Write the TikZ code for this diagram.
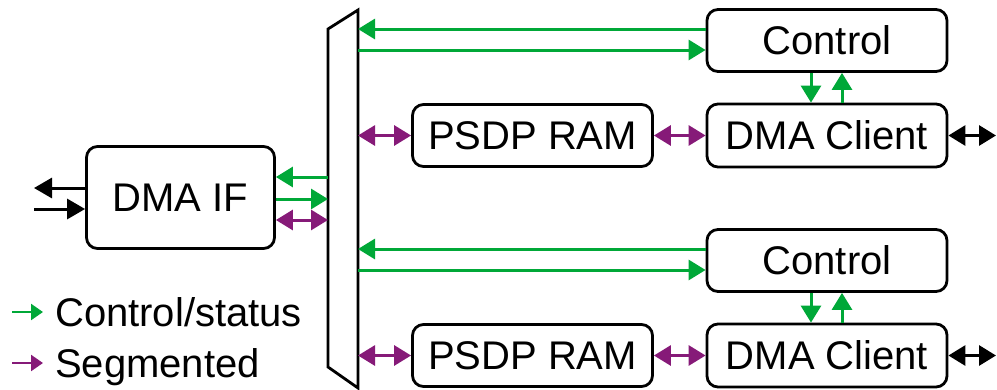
\documentclass[tikz,border=0pt]{standalone}
\usepackage{fontspec}
\setmainfont{Liberation Sans}
\usetikzlibrary{arrows.meta}
\definecolor{cgreen}{RGB}{0,168,56}
\definecolor{cpurple}{RGB}{134,26,120}
\begin{document}
\begin{tikzpicture}[x=1pt,y=-1pt,
  box/.style={draw,line width=2.8pt,rounded corners=11pt,minimum width=240pt,minimum height=62pt,inner sep=0pt,font=\fontsize{40}{46}\selectfont},
  garr/.style={draw=cgreen,line width=3pt,-{Triangle[length=17pt,width=20pt]}},
  parr/.style={draw=cpurple,line width=3pt,{Triangle[length=17pt,width=20pt]}-{Triangle[length=17pt,width=20pt]}},
  karr/.style={draw=black,line width=3pt,-{Triangle[length=18pt,width=20pt]}},
  kdarr/.style={draw=black,line width=3pt,{Triangle[length=17pt,width=20pt]}-{Triangle[length=17pt,width=20pt]}},
  legtxt/.style={anchor=base west,inner sep=0pt,font=\fontsize{40}{46}\selectfont}]
\useasboundingbox (0,0) rectangle (997,389);
% mux
\coordinate (mTL) at (328,29);
\coordinate (mTR) at (358,10);
\coordinate (mBR) at (358,388);
\coordinate (mBL) at (328,367);
\draw[line width=2.8pt,line join=miter] (mTL) -- (mTR) -- (mBR) -- (mBL) -- cycle;
% boxes
\node[box] (ctrl1) at (827,40.5) {Control};
\node[box,minimum height=63pt] (cli1) at (827,135.5) {DMA Client};
\node[box] (ram1) at (532.5,135.5) {PSDP RAM};
\node[box] (ctrl2) at (827,260.5) {Control};
\node[box,minimum height=63pt] (cli2) at (827,355.5) {DMA Client};
\node[box] (ram2) at (532.5,355.5) {PSDP RAM};
\node[box,minimum width=188pt,minimum height=102pt] (dif) at (180.5,197.5) {DMA IF};
% top group
\draw[garr] (ctrl1.west |- 0,29) -- (mTR |- 0,29);
\draw[garr] (mTR |- 0,50) -- (ctrl1.west |- 0,50);
\draw[parr] (mTR |- ram1.west) -- (ram1.west);
\draw[parr] (ram1.east) -- (cli1.west);
\draw[garr] (ctrl1.south -| 811,0) -- (cli1.north -| 811,0);
\draw[garr] (cli1.north -| 842,0) -- (ctrl1.south -| 842,0);
\coordinate (ext1) at (996,135.5);
\draw[kdarr] (cli1.east) -- (ext1);
% bottom group
\draw[garr] (ctrl2.west |- 0,249) -- (mTR |- 0,249);
\draw[garr] (mTR |- 0,270) -- (ctrl2.west |- 0,270);
\draw[parr] (mTR |- ram2.west) -- (ram2.west);
\draw[parr] (ram2.east) -- (cli2.west);
\draw[garr] (ctrl2.south -| 811,0) -- (cli2.north -| 811,0);
\draw[garr] (cli2.north -| 842,0) -- (ctrl2.south -| 842,0);
\coordinate (ext2) at (996,355.5);
\draw[kdarr] (cli2.east) -- (ext2);
% DMA IF
\draw[garr] (mTL |- 0,177) -- (dif.east |- 0,177);
\draw[garr] (dif.east |- 0,199) -- (mTL |- 0,199);
\draw[parr] (dif.east |- 0,220) -- (mTL |- 0,220);
\coordinate (lout) at (34,188);
\coordinate (lin) at (34,209);
\draw[karr] (dif.west |- lout) -- (lout);
\draw[karr] (lin) -- (dif.west |- lin);
% legend
\coordinate (lg1) at (12,312);
\coordinate (lg2) at (12,363);
\node[legtxt] (lt1) at (55,326) {Control/status};
\node[legtxt] (lt2) at (55,377) {Segmented};
\draw[draw=cgreen,line width=2.4pt,-{Triangle[length=12pt,width=16pt]}] (lg1) -- (lg1 -| 43,0);
\draw[draw=cpurple,line width=2.4pt,-{Triangle[length=12pt,width=16pt]}] (lg2) -- (lg2 -| 43,0);
\end{tikzpicture}
\end{document}
